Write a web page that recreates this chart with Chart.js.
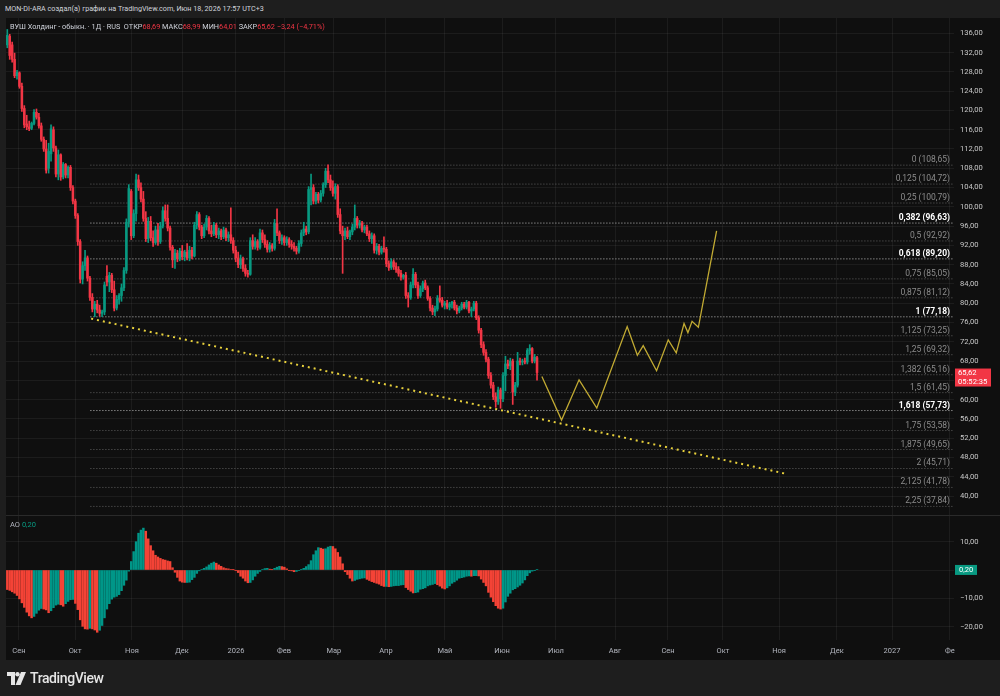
<!DOCTYPE html>
<html>
<head>
<meta charset="utf-8">
<script src="https://cdn.jsdelivr.net/npm/chart.js@4.4.1/dist/chart.umd.min.js"></script>
<style>
  body { margin: 0; width: 1000px; height: 696px; overflow: hidden; position: relative; background: #1e1e1e; font-family: Roboto, sans-serif; }
  #hdr { position: absolute; left: 5px; top: 4px; font-size: 7.2px; color: #d1d4dc; white-space: nowrap; }
  #pane { position: absolute; left: 6px; top: 18px; width: 994px; height: 642px; background: #0f0f0f; }
  #main { position: absolute; left: 6px; top: 18px; }
  #sep { position: absolute; left: 6px; top: 515px; width: 994px; height: 1px; background: #2a2a2a; }
  #ao { position: absolute; left: 6px; top: 516px; }
  #legend { position: absolute; left: 10px; top: 22px; font-size: 7.3px; color: #d1d4dc; white-space: nowrap; }
  #legend .v { color: #f23645; }
  #aolab { position: absolute; left: 10px; top: 520px; font-size: 7.5px; color: #b2b5be; white-space: nowrap; }
  #aolab .v { color: #089981; }
  #logo { position: absolute; left: 7px; top: 669px; height: 18px; display: flex; align-items: center; color: #e6e6e6; font-size: 14px; font-weight: 500; letter-spacing: -0.4px; }
  #logo svg { margin-right: 4px; }
</style>
</head>
<body>
<div id="hdr">MON-DI-ARA создал(а) график на TradingView.com, Июн 18, 2026 17:57 UTC+3</div>
<div id="pane"></div>
<canvas id="main" width="994" height="497"></canvas>
<div id="sep"></div>
<canvas id="ao" width="994" height="143"></canvas>
<div id="legend">ВУШ Холдинг - обыкн. · 1Д · RUS&nbsp; ОТКР<span class="v">68,69</span> МАКС<span class="v">68,99</span> МИН<span class="v">64,01</span> ЗАКР<span class="v">65,62</span> <span class="v">−3,24 (−4,71%)</span></div>
<div id="aolab">AO <span class="v">0,20</span></div>
<div id="logo"><svg width="19" height="13" viewBox="0 0 19 13"><path d="M0 0h8v13H4V4H0z" fill="#e6e6e6"/><circle cx="10.5" cy="2.2" r="2.2" fill="#e6e6e6"/><path d="M14 0h5l-5.5 13H8.5z" fill="#e6e6e6"/></svg>TradingView</div>
<script>
// daily bars, index 0 = late Aug 2025, last = Jun 18 2026
const opens = [133.6,135.4,133.6,130.6,127.2,127.8,125.0,120.4,117.2,116.6,
116.3,117.3,119.6,118.6,116.8,114.0,112.0,108.0,111.0,116.0,
112.2,106.8,110.8,106.2,108.8,106.6,108.2,104.0,101.2,98.2,
92.8,85.0,87.8,89.4,85.2,81.2,78.8,79.8,78.6,77.9,
78.2,85.6,84.4,85.8,82.8,79.0,80.8,81.6,83.2,86.8,
96.8,103.2,94.0,98.6,105.6,104.0,101.6,97.6,93.4,97.0,
93.6,92.6,95.2,92.8,96.0,99.2,97.6,95.6,91.6,89.0,
90.4,89.2,90.8,89.6,90.6,89.4,91.0,89.8,96.2,98.4,
95.8,94.0,95.8,97.6,95.0,94.4,96.2,94.2,95.0,93.8,
95.2,93.6,94.2,93.0,91.0,89.4,88.0,89.2,87.2,86.2,
86.0,93.0,91.8,92.8,91.6,94.6,93.2,92.2,91.2,92.0,
91.4,96.6,94.6,93.0,93.6,92.6,93.2,92.2,91.8,91.4,
90.8,92.4,94.6,95.4,94.8,103.6,104.0,101.2,102.6,101.4,
102.8,104.6,107.4,105.6,104.0,102.8,104.2,98.4,95.0,94.0,
95.0,93.8,94.8,95.8,97.6,96.2,96.6,95.2,95.8,94.4,
93.4,94.0,91.0,91.8,90.6,91.4,91.2,88.2,87.4,88.6,
87.6,87.0,86.2,85.4,85.8,81.6,81.2,83.8,86.0,83.8,
81.6,83.0,84.2,83.2,81.0,79.0,78.2,78.8,81.0,80.6,
79.6,80.0,79.2,79.8,80.2,79.0,78.4,79.0,79.8,79.2,
80.2,78.4,78.8,80.0,77.0,74.4,71.4,69.8,68.4,65.0,
63.0,60.6,59.6,62.0,60.2,65.0,67.4,67.0,68.0,61.6,
63.0,68.0,67.8,68.0,67.8,70.2,70.6,68.0,68.69];

const highs = [136.8,135.8,134.2,131.9,128.3,128.0,125.7,121.0,119.0,117.8,
117.6,120.2,120.3,119.4,117.4,114.5,113.8,113.2,117.0,116.6,
112.6,111.8,111.0,109.2,109.0,108.5,108.6,104.4,101.6,98.6,
93.2,88.6,91.0,89.8,85.6,82.0,80.4,80.6,79.6,78.6,
84.4,87.8,86.4,86.2,84.6,81.6,82.0,84.0,87.4,97.5,
104.6,103.6,99.4,106.8,106.6,105.0,103.2,99.0,97.8,98.0,
95.0,96.0,96.6,96.8,100.0,100.4,100.4,96.0,92.0,91.2,
91.0,91.4,92.0,91.0,92.4,91.8,91.6,96.8,99.0,98.8,
96.2,96.4,98.2,98.0,96.2,96.8,96.6,95.6,95.4,95.8,
95.6,94.8,99.8,93.6,91.8,90.6,90.0,89.6,88.0,86.8,
93.6,94.2,93.6,93.2,95.4,95.2,94.2,93.0,92.6,92.4,
97.4,99.6,95.0,94.2,94.0,93.8,93.6,93.0,92.6,91.8,
93.0,95.2,96.8,96.0,104.2,106.8,104.6,103.0,103.0,103.4,
105.0,108.0,108.7,106.6,105.4,104.8,104.6,99.6,96.0,95.6,
95.8,95.2,96.4,100.4,98.0,97.2,97.0,96.2,96.2,95.0,
94.6,94.4,92.4,92.2,91.8,93.8,91.6,88.8,89.2,89.0,
88.4,87.6,86.8,86.0,86.4,82.2,84.4,87.2,86.4,84.4,
83.6,84.6,84.8,83.6,81.4,79.6,79.4,81.6,83.6,81.2,
80.4,80.6,80.2,80.4,80.6,79.6,79.4,80.2,80.2,80.6,
80.4,79.2,80.4,80.4,77.4,74.8,72.0,70.4,68.8,65.6,
63.6,61.4,62.6,62.4,65.6,69.0,68.2,68.6,68.4,63.6,
69.8,68.6,68.4,68.6,70.6,71.4,70.8,69.4,68.99];

const lows = [133.0,130.6,130.0,126.8,126.5,124.6,119.8,116.4,116.0,115.8,
116.0,117.0,118.2,116.3,113.6,111.5,107.0,107.0,109.5,111.5,
106.2,105.6,105.5,105.8,106.0,106.0,103.4,100.6,97.6,92.0,
84.2,84.0,86.8,84.6,80.6,78.2,77.2,78.0,77.3,77.2,
77.6,83.6,82.4,82.2,78.4,78.6,79.8,80.4,82.6,86.2,
95.8,93.2,93.6,97.0,103.4,101.0,97.0,92.8,92.6,93.0,
91.8,92.2,92.0,92.4,95.6,97.0,95.0,91.0,87.4,87.2,
88.6,88.8,89.0,88.8,89.0,88.8,89.2,89.6,95.4,95.2,
93.4,93.6,95.2,94.4,93.8,94.0,93.6,93.4,93.2,93.4,
93.0,92.8,92.4,90.4,88.6,87.4,87.2,86.6,85.6,85.4,
85.8,91.2,91.2,91.0,91.2,92.6,91.6,90.6,90.6,90.8,
91.0,94.0,92.4,92.2,92.0,92.0,91.6,91.2,90.8,90.2,
90.4,91.8,94.0,94.2,94.4,100.4,100.6,100.6,100.8,101.0,
102.2,104.0,105.0,103.4,102.2,101.6,97.8,94.4,86.2,93.2,
93.4,93.2,94.2,95.2,95.6,95.6,94.8,94.6,94.0,92.8,
92.4,90.4,90.2,90.0,90.2,90.6,87.6,86.8,87.0,87.0,
86.4,85.6,84.8,85.0,81.0,79.2,80.8,83.2,83.2,81.0,
81.2,82.4,82.8,80.6,78.4,77.6,77.4,78.4,80.2,79.2,
78.8,78.8,78.6,79.0,78.6,77.8,78.0,78.6,78.8,78.8,
78.0,77.2,78.4,76.6,73.8,70.8,69.2,67.8,64.4,62.4,
60.0,58.4,59.0,58.2,59.6,61.8,66.4,66.2,59.0,60.8,
62.6,67.2,67.2,67.4,67.4,69.4,67.6,67.6,64.01];

const closes = [135.6,131.4,130.6,127.2,127.9,125.0,120.4,117.0,116.6,116.2,
117.3,119.6,118.6,116.8,114.0,112.0,107.6,111.5,116.2,112.2,
106.8,110.8,106.2,108.8,106.6,108.2,104.0,101.2,98.2,92.8,
85.0,87.8,89.4,85.2,81.2,78.8,79.8,78.6,77.9,78.2,
83.8,84.4,85.8,82.8,79.0,80.8,81.6,83.2,86.8,96.8,
103.8,94.0,98.6,105.6,104.0,101.6,97.6,93.4,97.0,93.6,
92.6,95.2,92.8,96.0,99.2,97.6,95.6,91.6,89.0,90.4,
89.2,90.8,89.6,90.6,89.4,91.0,89.8,96.2,98.4,95.8,
94.0,95.8,97.6,95.0,94.4,96.2,94.2,95.0,93.8,95.2,
93.6,94.2,93.0,91.0,89.4,88.0,89.2,87.2,86.2,86.0,
93.0,91.8,92.8,91.6,94.6,93.2,92.2,91.2,92.0,91.4,
96.6,94.6,93.0,93.6,92.6,93.2,92.2,91.8,91.4,90.8,
92.4,94.6,95.4,94.8,103.6,104.0,101.2,102.6,101.4,102.8,
104.6,107.4,105.6,104.0,102.8,104.2,98.4,95.0,94.0,95.0,
93.8,94.8,95.8,97.6,96.2,96.6,95.2,95.8,94.4,93.4,
94.0,91.0,91.8,90.6,91.4,91.2,88.2,87.4,88.6,87.6,
87.0,86.2,85.4,85.8,81.6,81.2,83.8,86.0,83.8,81.6,
83.0,84.2,83.2,81.0,79.0,78.2,78.8,81.0,80.6,79.6,
80.0,79.2,79.8,80.2,79.0,78.4,79.0,79.8,79.2,80.2,
78.4,78.8,80.0,77.0,74.4,71.4,69.8,68.4,65.0,63.0,
60.6,59.6,62.0,60.2,65.0,67.4,67.0,68.0,61.6,63.0,
68.0,67.8,68.0,67.8,70.2,70.6,68.0,68.8,65.62];

// Awesome Oscillator, one value per bar
const aoValues = [-6.9,-7.2,-7.7,-8.2,-9.0,-10.2,-11.6,-13.2,-14.9,-16.2,
-16.9,-16.4,-15.3,-14.2,-13.6,-13.8,-14.1,-15.1,-14.4,-13.3,
-12.4,-12.1,-12.3,-12.8,-11.9,-11.1,-10.5,-10.4,-11.8,-14.0,
-17.6,-19.9,-20.8,-20.9,-20.6,-20.8,-21.2,-22.0,-21.3,-19.6,
-16.9,-13.8,-11.9,-10.3,-9.6,-9.3,-8.7,-7.3,-5.4,-3.6,
-0.4,3.0,6.5,10.0,13.0,14.1,14.8,13.7,11.0,8.6,
6.8,5.2,4.6,4.1,3.7,3.5,3.2,3.0,0.8,-0.8,
-2.6,-3.9,-4.3,-4.4,-4.4,-4.3,-3.4,-2.6,-1.2,-0.3,
0.2,0.6,1.1,1.8,2.4,2.8,2.4,1.8,1.3,0.8,
0.5,0.4,0.2,0.1,-0.1,-0.9,-2.2,-2.9,-3.9,-4.5,
-4.4,-3.5,-2.2,-1.2,-0.5,0.2,0.5,0.6,0.3,0.1,
0.6,1.0,1.3,1.2,1.0,0.4,-0.1,-0.3,-0.6,-0.5,
-0.2,0.1,0.6,1.2,1.9,3.3,5.4,6.8,7.9,7.7,
7.4,7.5,8.1,8.4,8.3,7.5,6.2,4.6,2.2,-0.6,
-1.6,-2.9,-3.9,-3.7,-3.3,-3.1,-2.9,-2.8,-3.3,-3.7,
-4.1,-4.4,-4.7,-5.0,-5.5,-5.8,-5.8,-5.9,-5.8,-5.6,
-5.5,-5.5,-5.3,-5.2,-6.2,-6.9,-7.5,-8.1,-8.0,-7.8,
-6.8,-6.6,-6.3,-5.6,-5.3,-5.1,-4.8,-5.2,-5.7,-6.4,
-6.7,-6.3,-5.6,-4.7,-4.2,-3.6,-2.9,-2.7,-2.5,-2.2,
-2.1,-2.2,-2.0,-2.0,-2.1,-3.2,-4.4,-5.6,-7.9,-9.6,
-11.2,-12.6,-13.5,-13.8,-13.5,-11.3,-9.3,-8.2,-7.0,-6.6,
-6.0,-5.4,-4.6,-3.5,-2.0,-1.0,-0.4,-0.1,0.2];

// Fibonacci retracement levels
const fibRatios = ['0','0,125','0,25','0,382','0,5','0,618','0,75','0,875','1','1,125','1,25','1,382','1,5','1,618','1,75','1,875','2','2,125','2,25'];
const fibPrices = [108.65,104.72,100.79,96.63,92.92,89.20,85.05,81.12,77.18,73.25,69.32,65.16,61.45,57.73,53.58,49.65,45.71,41.78,37.84];
const fibKey = ['0,382','0,618','1','1,618'];
const fibStartBar = 34.2;

// hand drawn trend line and projected path (bar index, price)
const trendBars = [34.5, 320.5];
const trendPrices = [76.8, 44.6];
const projBars = [220.0, 228.1, 235.3, 242.6, 255.1, 259.3, 261.7, 267.2, 272.0, 275.3, 278.5, 280.1, 281.8, 284.4, 291.9];
const projPrices = [64.8, 55.75, 64.1, 58.25, 75.15, 69.2, 71.2, 66.0, 72.4, 69.7, 75.8, 73.9, 76.25, 75.0, 95.0];

// time axis
const monthBars = [4.8, 27.9, 51.3, 71.9, 94.1, 113.9, 134.4, 155.8, 180.1, 203.6, 225.8, 250.1, 271.9, 294.5, 317.6, 341.4, 364.1, 387.9];
const monthLabels = ['Сен','Окт','Ноя','Дек','2026','Фев','Мар','Апр','Май','Июн','Июл','Авг','Сен','Окт','Ноя','Дек','2027','Фе'];

const lastPrice = 65.62;
const lastTimer = '05:52:35';
const aoLast = 0.20;

const UP = '#089981', DOWN = '#f23645';
const AO_UP = '#009688', AO_DOWN = '#f44336';
const GRID = 'rgba(255,255,255,0.055)';
const X_MIN = -0.535, X_MAX = 389.6;
const FONT = 'Roboto, sans-serif';

const fmt = v => v.toFixed(2).replace('.', ',').replace('-', '\u2212');
const bars = closes.map((c, i) => i);
const candleColors = bars.map(i => closes[i] >= opens[i] ? UP : DOWN);

const noPad = s => { s.paddingTop = 0; s.paddingBottom = 0; s.paddingLeft = 0; s.paddingRight = 0; };

const xAxis = (showLabels) => ({
  type: 'linear', min: X_MIN, max: X_MAX, offset: false,
  grid: { color: GRID, drawTicks: false, offset: false },
  border: { display: false },
  afterBuildTicks: s => { s.ticks = monthBars.map(v => ({ value: v })); },
  afterFit: s => { s.height = showLabels ? 19 : 0; noPad(s); },
  ticks: {
    display: showLabels, autoSkip: false, maxRotation: 0, padding: 7,
    color: '#b2b5be', font: { family: FONT, size: 7.5 },
    callback: (v, k) => monthLabels[k]
  }
});

const yAxis = (min, max, step, hideZero) => ({
  position: 'right', min, max,
  grid: { color: GRID, drawTicks: false },
  border: { display: false },
  afterFit: s => { s.width = 46; noPad(s); },
  ticks: {
    stepSize: step, includeBounds: false, padding: 6, color: '#c8c8c8',
    font: { family: FONT, size: 7.6 },
    callback: v => (hideZero && v === 0) ? '' : fmt(v)
  }
});

const fibDatasets = fibPrices.map((p, k) => ({
  type: 'line',
  data: [{ x: fibStartBar, y: p }, { x: X_MAX, y: p }],
  borderColor: fibKey.includes(fibRatios[k]) ? 'rgba(220,220,220,0.85)' : 'rgba(150,150,150,0.6)',
  borderWidth: 1, borderDash: [1, 2], pointRadius: 0, order: 6
}));

const mainOverlay = {
  id: 'mainOverlay',
  afterDatasetsDraw(chart) {
    const { ctx, scales: { y } } = chart;
    ctx.save();
    ctx.textAlign = 'right';
    ctx.textBaseline = 'alphabetic';
    fibPrices.forEach((p, k) => {
      const strong = fibKey.includes(fibRatios[k]);
      ctx.font = (strong ? 'bold ' : '') + '8.5px ' + FONT;
      ctx.fillStyle = strong ? '#ffffff' : '#8c8c8c';
      ctx.fillText(fibRatios[k] + ' (' + fmt(p) + ')', 944, y.getPixelForValue(p) - 3);
    });
    const py = y.getPixelForValue(lastPrice);
    ctx.fillStyle = DOWN;
    ctx.fillRect(949, py - 4, 36, 18);
    ctx.fillStyle = '#ffffff';
    ctx.textAlign = 'left';
    ctx.textBaseline = 'middle';
    ctx.font = '7.6px ' + FONT;
    ctx.fillText(fmt(lastPrice), 952, py + 1);
    ctx.fillText(lastTimer, 952, py + 9.5);
    ctx.restore();
  }
};

new Chart(document.getElementById('main'), {
  type: 'bar',
  data: {
    datasets: [
      { type: 'bar', data: bars.map(i => ({ x: i, y: [lows[i], highs[i]] })), backgroundColor: candleColors, barThickness: 1, grouped: false, order: 3 },
      { type: 'bar', data: bars.map(i => ({ x: i, y: [opens[i], closes[i]] })), backgroundColor: candleColors, barThickness: 1.9, grouped: false, minBarLength: 1, order: 2 },
      ...fibDatasets,
      { type: 'line', data: trendBars.map((x, k) => ({ x, y: trendPrices[k] })), borderColor: '#e8d13c', borderWidth: 2, borderDash: [2, 4], pointRadius: 0, order: 1 },
      { type: 'line', data: projBars.map((x, k) => ({ x, y: projPrices[k] })), borderColor: '#c2ab33', borderWidth: 1.3, pointRadius: 0, tension: 0, order: 1 }
    ]
  },
  options: {
    responsive: false, animation: false,
    layout: { padding: 0 },
    plugins: { legend: { display: false }, tooltip: { enabled: false } },
    scales: { x: xAxis(false), y: yAxis(36.06, 139.18, 4, false) }
  },
  plugins: [mainOverlay]
});

const aoOverlay = {
  id: 'aoOverlay',
  afterDatasetsDraw(chart) {
    const { ctx, scales: { y } } = chart;
    const py = y.getPixelForValue(aoLast);
    ctx.save();
    ctx.fillStyle = '#089981';
    ctx.fillRect(949, py - 4.5, 22, 10);
    ctx.fillStyle = '#ffffff';
    ctx.textAlign = 'left';
    ctx.textBaseline = 'middle';
    ctx.font = '7.6px ' + FONT;
    ctx.fillText(fmt(aoLast), 953, py + 0.5);
    ctx.restore();
  }
};

new Chart(document.getElementById('ao'), {
  type: 'bar',
  data: {
    datasets: [{
      data: bars.map(i => ({ x: i, y: aoValues[i] })),
      backgroundColor: bars.map(i => (i > 0 && aoValues[i] >= aoValues[i - 1]) ? AO_UP : AO_DOWN),
      barThickness: 1.8, grouped: false
    }]
  },
  options: {
    responsive: false, animation: false,
    layout: { padding: 0 },
    plugins: { legend: { display: false }, tooltip: { enabled: false } },
    scales: { x: xAxis(true), y: yAxis(-24.73, 19.08, 10, true) }
  },
  plugins: [aoOverlay]
});
</script>
</body>
</html>
